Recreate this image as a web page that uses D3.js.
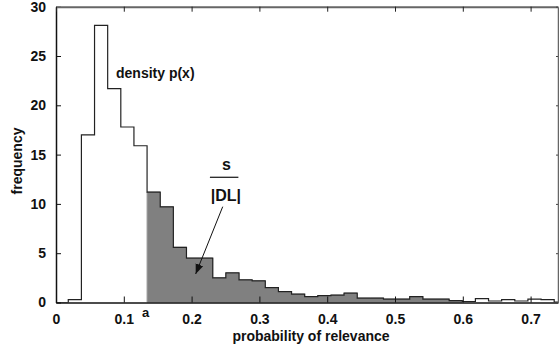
<!DOCTYPE html>
<html>
<head>
<meta charset="utf-8">
<script src="https://cdn.jsdelivr.net/npm/d3@7"></script>
<style>
  body { margin: 0; background: #fff; }
  text { font-family: "Liberation Sans", Arial, sans-serif; font-weight: bold; }
</style>
</head>
<body>
<div id="chart"></div>
<script>
// histogram bins (left edge of first bin and bin width, in x units)
const binStart = 0.0181;
const binWidth = 0.01937;
// frequency of each bin
const freq = [0.3, 17.0, 28.1, 21.7, 17.8, 15.9, 11.2, 9.7, 5.6, 4.5,
              4.5, 2.5, 3.0, 2.3, 2.2, 1.5, 1.1, 0.85, 0.6, 0.7,
              0.75, 0.95, 0.45, 0.45, 0.35, 0.35, 0.6, 0.35, 0.35, 0.2,
              0.1, 0.4, 0.15, 0.3, 0.15, 0.35, 0.3, 0.05];
// shaded region: from bin 6 (x = a) to bin 29
const shadeFirst = 6;
const shadeLast = 29;
const aValue = 0.1338;

const xTicks = [0, 0.1, 0.2, 0.3, 0.4, 0.5, 0.6, 0.7];
const yTicks = [0, 5, 10, 15, 20, 25, 30];

const width = 559;
const height = 348;
const margin = {top: 6.7, right: 1, bottom: 45.5, left: 56};

const svg = d3.select("#chart")
    .append("svg")
    .attr("width", width)
    .attr("height", height);

const x = d3.scaleLinear().domain([0, 0.7404]).range([margin.left, width - margin.right]);
const y = d3.scaleLinear().domain([0, 30]).range([height - margin.bottom, margin.top]);

// points for the step outline: each bin's left edge, plus the last right edge
const pts = freq.map((v, i) => [binStart + i * binWidth, v]);
pts.push([binStart + freq.length * binWidth, freq[freq.length - 1]]);

// shaded area under the density between a and b
const shadePts = pts.slice(shadeFirst, shadeLast + 1);
shadePts.push([binStart + (shadeLast + 1) * binWidth, freq[shadeLast]]);

svg.append("clipPath").attr("id", "plotclip")
    .append("rect")
    .attr("x", margin.left).attr("y", margin.top)
    .attr("width", width - margin.left - margin.right)
    .attr("height", height - margin.top - margin.bottom);

const plot = svg.append("g").attr("clip-path", "url(#plotclip)");

plot.append("path")
    .datum(shadePts)
    .attr("fill", "#808080")
    .attr("stroke", "#9a9a9a")
    .attr("stroke-width", 1)
    .attr("d", d3.area()
        .curve(d3.curveStepAfter)
        .x(d => x(d[0]))
        .y0(y(0))
        .y1(d => y(d[1])));

// outline starts from the baseline
const outline = [[0, 0], [binStart, 0]].concat(pts);
plot.append("path")
    .datum(outline)
    .attr("fill", "none")
    .attr("stroke", "#222")
    .attr("stroke-width", 1.2)
    .attr("d", d3.line()
        .curve(d3.curveStepAfter)
        .x(d => x(d[0]))
        .y(d => y(d[1])));

const fmtX = d => d === 0 ? "0" : d3.format(".1f")(d);
const fmtY = d3.format("d");

// bottom axis, ticks pointing inward
const xAxis = svg.append("g")
    .attr("transform", `translate(0,${y(0)})`)
    .call(d3.axisBottom(x).tickValues(xTicks).tickFormat(fmtX).tickSizeInner(-6).tickSizeOuter(0).tickPadding(12));
xAxis.select(".domain").attr("stroke", "#111").attr("stroke-width", 1.5);
xAxis.selectAll(".tick line").attr("stroke", "#111");
xAxis.selectAll("text").attr("font-size", 14).attr("fill", "#111");

// left axis
const yAxis = svg.append("g")
    .attr("transform", `translate(${margin.left},0)`)
    .call(d3.axisLeft(y).tickValues(yTicks).tickFormat(fmtY).tickSizeInner(-5).tickSizeOuter(0).tickPadding(10));
yAxis.select(".domain").attr("stroke", "#111").attr("stroke-width", 1.5);
yAxis.selectAll(".tick line").attr("stroke", "#111");
yAxis.selectAll("text").attr("font-size", 14).attr("fill", "#111");

// top border with ticks
const topAxis = svg.append("g")
    .attr("transform", `translate(0,${margin.top})`)
    .call(d3.axisTop(x).tickValues(xTicks).tickFormat("").tickSizeInner(-5).tickSizeOuter(0));
topAxis.select(".domain").attr("stroke", "#666").attr("stroke-width", 2);
topAxis.selectAll(".tick line").attr("stroke", "#222");

// right border with ticks
const rightAxis = svg.append("g")
    .attr("transform", `translate(${width - margin.right},0)`)
    .call(d3.axisRight(y).tickValues(yTicks).tickFormat("").tickSizeInner(-2).tickSizeOuter(0));
rightAxis.select(".domain").attr("stroke", "#666").attr("stroke-width", 1.5);
rightAxis.selectAll(".tick line").attr("stroke", "#444");

// axis titles
svg.append("text")
    .attr("x", 311).attr("y", 341)
    .attr("text-anchor", "middle")
    .attr("font-size", 14)
    .attr("fill", "#111")
    .text("probability of relevance");

svg.append("text")
    .attr("transform", "translate(22,161) rotate(-90)")
    .attr("text-anchor", "middle")
    .attr("font-size", 14)
    .attr("fill", "#111")
    .text("frequency");

// marker for a
svg.append("text")
    .attr("x", x(aValue) - 1).attr("y", 317)
    .attr("text-anchor", "middle")
    .attr("font-size", 13)
    .attr("fill", "#111")
    .text("a");

// annotations
svg.append("text")
    .attr("x", x(0.0885)).attr("y", y(22.8))
    .attr("font-size", 14)
    .attr("fill", "#111")
    .text("density p(x)");

svg.append("text")
    .attr("x", x(0.2515)).attr("y", y(13.4))
    .attr("text-anchor", "middle")
    .attr("font-size", 16)
    .attr("fill", "#111")
    .text("s");

svg.append("line")
    .attr("x1", x(0.227)).attr("x2", x(0.269))
    .attr("y1", y(12.7)).attr("y2", y(12.7))
    .attr("stroke", "#111").attr("stroke-width", 1.2);

svg.append("text")
    .attr("x", x(0.2505)).attr("y", y(10.3))
    .attr("text-anchor", "middle")
    .attr("font-size", 16)
    .attr("fill", "#111")
    .text("|DL|");

// arrow
svg.append("defs").append("marker")
    .attr("id", "arrow")
    .attr("viewBox", "0 0 10 10")
    .attr("refX", 10).attr("refY", 5)
    .attr("markerWidth", 10).attr("markerHeight", 10)
    .attr("markerUnits", "userSpaceOnUse")
    .attr("orient", "auto")
    .append("path")
    .attr("d", "M0,1 L10,5 L0,9 Z")
    .attr("fill", "#111");

svg.append("line")
    .attr("x1", x(0.2459)).attr("y1", y(9.72))
    .attr("x2", x(0.206)).attr("y2", y(2.89))
    .attr("stroke", "#111").attr("stroke-width", 1)
    .attr("marker-end", "url(#arrow)");
</script>
</body>
</html>
